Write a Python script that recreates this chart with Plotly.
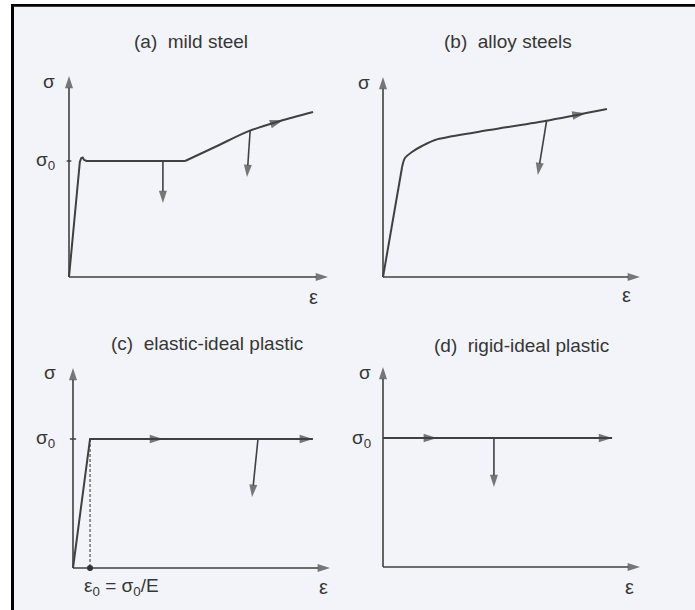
import plotly.graph_objects as go

W, H = 695, 610
SX, SY = 25.8, 200.0          # px per unit strain / stress (layout scale)
LC = "#404040"                # line colour
TC = "#363636"                # text colour
FONT = "Liberation Sans, Arial, sans-serif"

# ---------------- data (strain eps, stress sigma; sigma0-like units) ----------------
# (a) mild steel
a_eps = [0, 0.42, 0.47, 0.53, 0.58, 0.68, 4.50, 5.74, 6.94, 8.18, 9.46]
a_sig = [0, 0.575, 0.594, 0.597, 0.586, 0.580, 0.580, 0.655, 0.728, 0.780, 0.825]
a_sig0 = 0.58
a_curve_arrow = [8.00, 0.772, 8.30, 0.784]
a_unload = [[3.64, 0.58, 3.64, 0.37], [7.02, 0.73, 6.90, 0.50]]

# (b) alloy steels
b_eps = [0, 0.74, 0.85, 1.12, 1.51, 2.02, 3.68, 6.28, 8.68]
b_sig = [0, 0.550, 0.595, 0.625, 0.655, 0.685, 0.725, 0.780, 0.840]
b_curve_arrow = [7.30, 0.806, 7.85, 0.819]
b_unload = [[6.34, 0.78, 6.00, 0.51]]

# (c) elastic-ideal plastic
c_eps = [0, 0.66, 9.30]
c_sig = [0, 0.645, 0.645]
c_sig0 = 0.645
c_eps0 = 0.66
c_curve_arrow = [3.00, 0.645, 3.49, 0.645]
c_unload = [[7.17, 0.645, 6.94, 0.355]]

# (d) rigid-ideal plastic
d_eps = [0, 8.88]
d_sig = [0.645, 0.645]
d_curve_arrow = [1.60, 0.645, 2.09, 0.645]
d_unload = [[4.30, 0.645, 4.30, 0.40]]

titles = ["(a)  mild steel", "(b)  alloy steels",
          "(c)  elastic-ideal plastic", "(d)  rigid-ideal plastic"]

# ---------------- layout helpers ----------------
XR = [-1.5, 10.5]
YR = [-0.15, 1.2]
origins = {"a": (69, 277), "b": (383, 277), "c": (73, 568), "d": (383, 567)}
axis_end = {"a": (10.04, 1.005), "b": (9.96, 1.0), "c": (9.96, 1.0), "d": (9.96, 1.0)}
title_pos = {"a": (4.72, 1.177), "b": (4.84, 1.177), "c": (5.18, 1.123), "d": (5.38, 1.11)}
sigma_pos = {"a": (-0.76, 0.977), "b": (-0.74, 0.975), "c": (-0.89, 0.977), "d": (-0.70, 0.975)}
eps_pos = {"a": (9.46, -0.10), "b": (9.42, -0.09), "c": (9.70, -0.097), "d": (9.57, -0.098)}

fig = go.Figure()
layout_axes = {}
annotations = []
keys = ["a", "b", "c", "d"]
for i, k in enumerate(keys):
    ox, oy = origins[k]
    xd = [(ox + XR[0] * SX) / W, (ox + XR[1] * SX) / W]
    yd = [1 - (oy - YR[0] * SY) / H, 1 - (oy - YR[1] * SY) / H]
    sfx = "" if i == 0 else str(i + 1)
    layout_axes["xaxis" + sfx] = dict(domain=xd, range=XR, visible=False, fixedrange=True)
    layout_axes["yaxis" + sfx] = dict(domain=yd, range=YR, visible=False, fixedrange=True)

def ax_ids(k):
    i = keys.index(k)
    return ("x", "y") if i == 0 else ("x" + str(i + 1), "y" + str(i + 1))

def line(k, xs, ys, width=2.0, dash=None, shape="linear"):
    xa, ya = ax_ids(k)
    fig.add_trace(go.Scatter(x=xs, y=ys, mode="lines", xaxis=xa, yaxis=ya,
                             line=dict(color=LC, width=width, dash=dash, shape=shape,
                                       smoothing=0.8 if shape == "spline" else None),
                             hoverinfo="skip", showlegend=False, cliponaxis=False))

def arrow(k, seg, size=13, shaft=False, width=1.6):
    xa, ya = ax_ids(k)
    fig.add_trace(go.Scatter(x=[seg[0], seg[2]], y=[seg[1], seg[3]],
                             mode="lines+markers" if shaft else "markers",
                             xaxis=xa, yaxis=ya,
                             line=dict(color=LC, width=width),
                             marker=dict(symbol="arrow", size=[0, size], angleref="previous",
                                         color=LC, line=dict(width=0)),
                             hoverinfo="skip", showlegend=False, cliponaxis=False))

def text(k, x, y, s, size=19, xanchor="center"):
    xa, ya = ax_ids(k)
    annotations.append(dict(x=x, y=y, xref=xa, yref=ya, text=s, showarrow=False,
                            xanchor=xanchor, yanchor="middle",
                            font=dict(family=FONT, size=size, color=TC)))

# axes with arrowheads
for k in keys:
    xe, ye = axis_end[k]
    arrow(k, [0, 0, 0, ye], size=13, shaft=True, width=1.6)
    arrow(k, [0, 0, xe, 0], size=13, shaft=True, width=1.6)
    text(k, *title_pos[k], titles[keys.index(k)])
    text(k, *sigma_pos[k], "σ")
    text(k, *eps_pos[k], "ε", size=20)

# (a)
line("a", [-0.09, 0.09], [a_sig0, a_sig0], width=1.5)
line("a", a_eps[:7], a_sig[:7], width=2.0)
line("a", a_eps[6:], a_sig[6:], width=2.0, shape="spline")
arrow("a", a_curve_arrow, size=14)
for seg in a_unload:
    arrow("a", seg, size=13, shaft=True)
text("a", -0.91, a_sig0, "σ<sub>0</sub>")

# (b)
line("b", b_eps[:2], b_sig[:2], width=2.0)
line("b", b_eps[1:], b_sig[1:], width=2.0, shape="spline")
arrow("b", b_curve_arrow, size=14)
for seg in b_unload:
    arrow("b", seg, size=13, shaft=True)

# (c)
line("c", [-0.12, 0.12], [c_sig0, c_sig0], width=1.5)
line("c", [c_eps0, c_eps0], [c_sig0, 0], width=1.1, dash="3px,2px")
line("c", c_eps, c_sig, width=2.0)
arrow("c", [c_eps[-2], c_sig[-2], c_eps[-1], c_sig[-1]], size=14)
arrow("c", c_curve_arrow, size=14)
for seg in c_unload:
    arrow("c", seg, size=13, shaft=True)
xa, ya = ax_ids("c")
fig.add_trace(go.Scatter(x=[c_eps0], y=[0], mode="markers", xaxis=xa, yaxis=ya,
                         marker=dict(color="#333333", size=6), hoverinfo="skip",
                         showlegend=False, cliponaxis=False))
text("c", -1.07, c_sig0, "σ<sub>0</sub>")
text("c", 1.89, -0.097, "ε<sub>0</sub> = σ<sub>0</sub>/E")

# (d)
line("d", d_eps, d_sig, width=2.0)
arrow("d", [d_eps[0], d_sig[0], d_eps[-1], d_sig[-1]], size=14)
arrow("d", d_curve_arrow, size=14)
for seg in d_unload:
    arrow("d", seg, size=13, shaft=True)
text("d", -0.83, 0.64, "σ<sub>0</sub>")

shapes = [
    dict(type="rect", xref="paper", yref="paper", x0=11 / W, x1=1, y0=0, y1=1 - 4 / H,
         fillcolor="#f3f4fa", line=dict(width=0), layer="below"),
    dict(type="line", xref="paper", yref="paper", x0=12.5 / W, x1=12.5 / W, y0=0, y1=1 - 4 / H,
         line=dict(color="black", width=3), layer="above"),
    dict(type="line", xref="paper", yref="paper", x0=11 / W, x1=1, y0=1 - 5.4 / H, y1=1 - 5.4 / H,
         line=dict(color="black", width=2.8), layer="above"),
]

fig.update_layout(width=W, height=H, margin=dict(l=0, r=0, t=0, b=0),
                  paper_bgcolor="white", plot_bgcolor="rgba(0,0,0,0)",
                  showlegend=False, shapes=shapes, annotations=annotations,
                  **layout_axes)
fig.write_html("out.html", config={"displayModeBar": False})
